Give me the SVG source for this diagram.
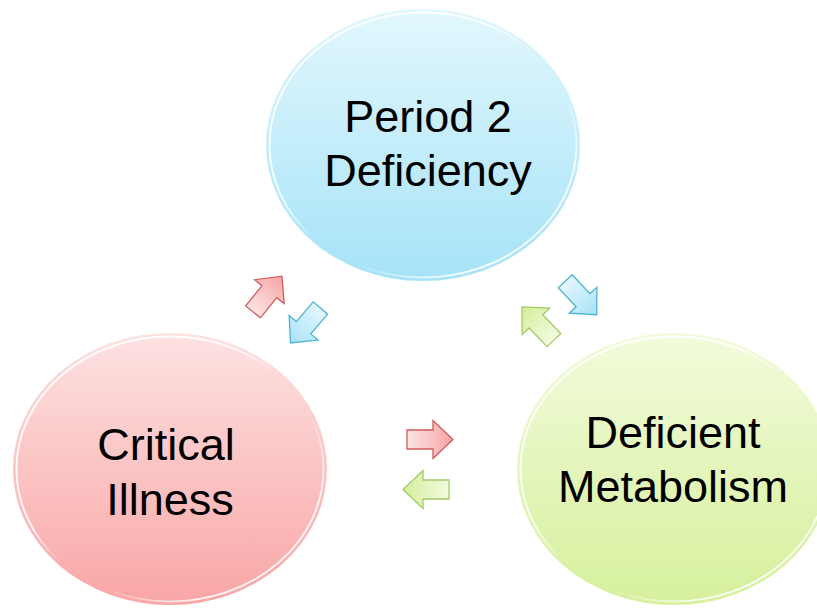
<svg xmlns="http://www.w3.org/2000/svg" width="817" height="610" viewBox="0 0 817 610">
  <defs>
    <linearGradient id="gBlue" x1="0" y1="0" x2="0" y2="1">
      <stop offset="0" stop-color="#e2f7fd"/>
      <stop offset="1" stop-color="#a6e3f8"/>
    </linearGradient>
    <linearGradient id="gRed" x1="0" y1="0" x2="0" y2="1">
      <stop offset="0" stop-color="#fde2e2"/>
      <stop offset="1" stop-color="#f9a6a6"/>
    </linearGradient>
    <linearGradient id="gGreen" x1="0" y1="0" x2="0" y2="1">
      <stop offset="0" stop-color="#f2fbdc"/>
      <stop offset="1" stop-color="#d6f09c"/>
    </linearGradient>
    <!-- glossy inner ring: visible upper-left and lower-right only -->
    <linearGradient id="gloss" x1="0" y1="0" x2="1" y2="1">
      <stop offset="0" stop-color="#ffffff" stop-opacity="1"/>
      <stop offset="0.38" stop-color="#ffffff" stop-opacity="0.9"/>
      <stop offset="0.5" stop-color="#ffffff" stop-opacity="0"/>
      <stop offset="0.62" stop-color="#ffffff" stop-opacity="0"/>
      <stop offset="0.8" stop-color="#ffffff" stop-opacity="0.9"/>
      <stop offset="1" stop-color="#ffffff" stop-opacity="1"/>
    </linearGradient>
    <linearGradient id="aRed" x1="0" y1="0" x2="1" y2="0">
      <stop offset="0" stop-color="#fde4e4"/>
      <stop offset="1" stop-color="#f7a4a4"/>
    </linearGradient>
    <linearGradient id="aBlue" x1="0" y1="0" x2="1" y2="0">
      <stop offset="0" stop-color="#e4f6fd"/>
      <stop offset="1" stop-color="#a8e2f7"/>
    </linearGradient>
    <linearGradient id="aGreen" x1="0" y1="0" x2="1" y2="0">
      <stop offset="0" stop-color="#f2fbe0"/>
      <stop offset="1" stop-color="#d4ee9c"/>
    </linearGradient>
    <path id="arrow" d="M-23,-9.5 L3,-9.5 L3,-19 L23,0 L3,19 L3,9.5 L-23,9.5 Z"/>
  </defs>
  <style>
    .label { font-family: "Liberation Sans", Arial, sans-serif; font-size: 45px; fill: #000; text-anchor: middle; }
    .rim { fill: none; stroke: url(#gloss); stroke-width: 1.8; }
    .ar-red { fill: url(#aRed); stroke: #d25c5c; stroke-width: 1.3; }
    .ar-blue { fill: url(#aBlue); stroke: #4eb3d4; stroke-width: 1.3; }
    .ar-green { fill: url(#aGreen); stroke: #a2cc66; stroke-width: 1.3; }
  </style>
  <rect width="817" height="610" fill="#ffffff"/>

  <!-- Period 2 Deficiency -->
  <g id="node-period2">
    <ellipse cx="423" cy="145" rx="157" ry="136" fill="url(#gBlue)"/>
    <ellipse class="rim" cx="423" cy="145" rx="153.5" ry="132.5"/>
    <text class="label" x="428" y="132">Period 2</text>
    <text class="label" x="428" y="186">Deficiency</text>
  </g>

  <!-- Critical Illness -->
  <g id="node-critical">
    <ellipse cx="170" cy="469" rx="157" ry="136" fill="url(#gRed)"/>
    <ellipse class="rim" cx="170" cy="469" rx="153.5" ry="132.5"/>
    <text class="label" x="166" y="460">Critical</text>
    <text class="label" x="170" y="515">Illness</text>
  </g>

  <!-- Deficient Metabolism -->
  <g id="node-metabolism">
    <ellipse cx="674" cy="469" rx="157" ry="136" fill="url(#gGreen)"/>
    <ellipse class="rim" cx="674" cy="469" rx="153.5" ry="132.5"/>
    <text class="label" x="673" y="448">Deficient</text>
    <text class="label" x="673" y="502">Metabolism</text>
  </g>

  <!-- connectors -->
  <g id="connectors">
    <use href="#arrow" class="ar-red" transform="translate(267.5,294) rotate(-51)"/>
    <use href="#arrow" class="ar-blue" transform="translate(305.5,325.5) rotate(130.5)"/>
    <use href="#arrow" class="ar-blue" transform="translate(581,298) rotate(46.7)"/>
    <use href="#arrow" class="ar-green" transform="translate(538,323.5) rotate(-134)"/>
    <use href="#arrow" class="ar-red" transform="translate(430,439.5)"/>
    <use href="#arrow" class="ar-green" transform="translate(426,489.5) rotate(180)"/>
  </g>
</svg>
